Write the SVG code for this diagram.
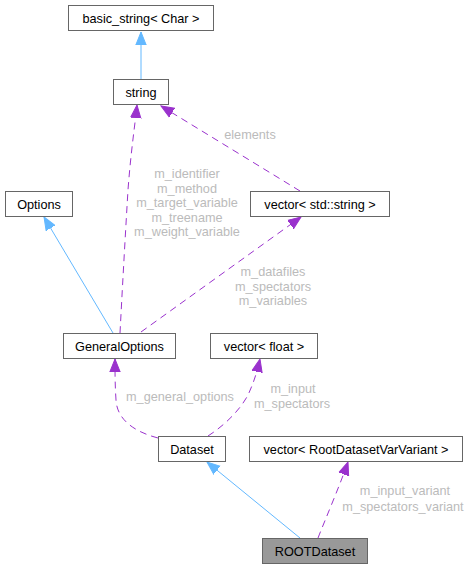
<svg xmlns="http://www.w3.org/2000/svg" width="472" height="569" viewBox="0 0 472 569">
<style>
.node rect{fill:#ffffff;stroke:#666666;stroke-width:1}
.node text{font-family:"Liberation Sans",Arial,sans-serif;font-size:12.7px;fill:#000000;text-anchor:middle}
.inh{fill:none;stroke:#63b8ff;stroke-width:1}
.use{fill:none;stroke:#9a32cd;stroke-width:1;stroke-dasharray:7,5}
.lbl{font-family:"Liberation Sans",Arial,sans-serif;font-size:12.7px;fill:#bbbbbb;text-anchor:middle}
</style>
<defs>
<marker id="ab" markerUnits="userSpaceOnUse" markerWidth="14" markerHeight="12" refX="13" refY="6" orient="auto">
<path d="M0,0.8 L13,6 L0,11.2 z" fill="#63b8ff" stroke="#63b8ff"/>
</marker>
<marker id="ap" markerUnits="userSpaceOnUse" markerWidth="14" markerHeight="12" refX="13" refY="6" orient="auto">
<path d="M0,0.8 L13,6 L0,11.2 z" fill="#9a32cd" stroke="#9a32cd"/>
</marker>
</defs>
<rect width="472" height="569" fill="#ffffff"/>
<g id="edges">
<path class="inh" d="M141,80 L141,32" marker-end="url(#ab)"/>
<path class="use" d="M120,333 C122,295 125,240 128,190 C131,150 135,125 137,105" marker-end="url(#ap)"/>
<path class="use" d="M300,191 L161,106" marker-end="url(#ap)"/>
<text class="lbl" x="250" y="139">elements</text>
<text class="lbl" x="187" y="178">m_identifier</text>
<text class="lbl" x="187" y="192.5">m_method</text>
<text class="lbl" x="187" y="207">m_target_variable</text>
<text class="lbl" x="187" y="221.5">m_treename</text>
<text class="lbl" x="187" y="236">m_weight_variable</text>
<path class="inh" d="M113,333 L44,217" marker-end="url(#ab)"/>
<path class="use" d="M141,332 L301,217" marker-end="url(#ap)"/>
<text class="lbl" x="273" y="276">m_datafiles</text>
<text class="lbl" x="273" y="290.5">m_spectators</text>
<text class="lbl" x="273" y="305">m_variables</text>
<path class="use" d="M158,438 C135,432 117,420 116,400 C115,385 115,372 115,359" marker-end="url(#ap)"/>
<text class="lbl" x="180" y="401">m_general_options</text>
<path class="use" d="M208,436 C225,425 240,410 248,395 C254,382 257,372 260,359" marker-end="url(#ap)"/>
<text class="lbl" x="293" y="393">m_input</text>
<text class="lbl" x="292" y="408">m_spectators</text>
<path class="inh" d="M300,538 L207,462" marker-end="url(#ab)"/>
<path class="use" d="M318,538 C325,520 340,485 348,462" marker-end="url(#ap)"/>
<text class="lbl" x="405" y="495">m_input_variant</text>
<text class="lbl" x="403" y="511">m_spectators_variant</text>
</g>
<g id="basic_string" class="node"><rect x="68.5" y="5.5" width="145" height="25"/><text x="141" y="22.5">basic_string&lt; Char &gt;</text></g>
<g id="string" class="node"><rect x="113.5" y="79.5" width="55" height="25"/><text x="141" y="96.5">string</text></g>
<g id="Options" class="node"><rect x="5.5" y="191.5" width="67" height="25"/><text x="39" y="208.5">Options</text></g>
<g id="vector_std_string" class="node"><rect x="250.5" y="191.5" width="139" height="25"/><text x="320" y="208.5">vector&lt; std::string &gt;</text></g>
<g id="GeneralOptions" class="node"><rect x="63.5" y="333.5" width="112" height="25"/><text x="119.5" y="350.5">GeneralOptions</text></g>
<g id="vector_float" class="node"><rect x="210.5" y="333.5" width="107" height="25"/><text x="264" y="350.5">vector&lt; float &gt;</text></g>
<g id="Dataset" class="node"><rect x="158.5" y="436.5" width="67" height="25"/><text x="192" y="453.5">Dataset</text></g>
<g id="vector_RootDatasetVarVariant" class="node"><rect x="249.5" y="436.5" width="213" height="25"/><text x="356" y="453.5">vector&lt; RootDatasetVarVariant &gt;</text></g>
<g id="ROOTDataset" class="node"><rect x="262.5" y="538.5" width="105" height="25" style="fill:#999999"/><text x="315" y="555.5">ROOTDataset</text></g>
</svg>
